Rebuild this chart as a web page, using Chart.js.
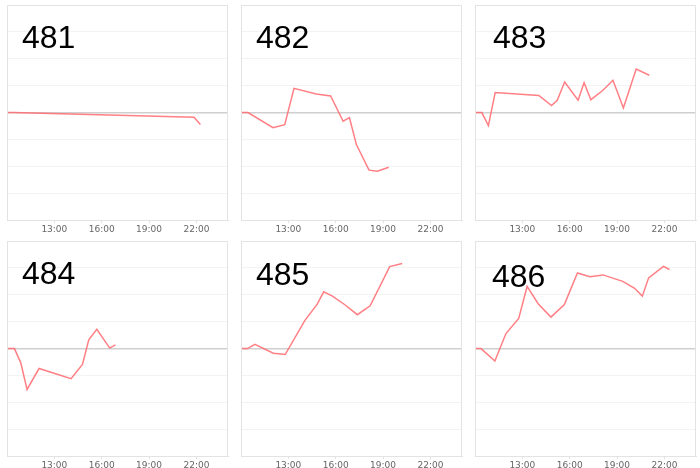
<!DOCTYPE html>
<html>
<head>
<meta charset="utf-8">
<script src="https://cdn.jsdelivr.net/npm/chart.js@4"></script>
<style>
body { margin: 0; background: #fff; }
#wrap { position: relative; width: 700px; height: 468px; overflow: hidden; }
.cell { position: absolute; width: 234px; height: 238px; }
.cell canvas { position: absolute; left: 0; top: 0; }
.title { position: absolute; font-family: "Liberation Sans", Arial, sans-serif; font-size: 32px; color: #000; line-height: 1; }
</style>
</head>
<body>
<div id="wrap"></div>
<script>
// chart names
var names = ["481", "482", "483", "484", "485", "486"];

// time in hours, value
var hours481 = [10.0, 10.4, 21.85, 22.25];
var values481 = [0, 0, -0.17, -0.44];

var hours482 = [10.0, 10.44, 12.03, 12.77, 13.36, 14.77, 15.68, 16.47, 16.87, 17.31, 18.11, 18.64, 19.36];
var values482 = [0, 0, -0.56, -0.45, 0.9, 0.69, 0.62, -0.32, -0.19, -1.19, -2.14, -2.18, -2.03];

var hours483 = [10.0, 10.43, 10.85, 11.28, 14.04, 14.85, 15.21, 15.68, 16.53, 16.91, 17.34, 18.09, 18.74, 19.4, 20.21, 21.04];
var values483 = [0, 0, -0.48, 0.75, 0.64, 0.26, 0.46, 1.14, 0.46, 1.11, 0.48, 0.82, 1.2, 0.17, 1.62, 1.39];

var hours484 = [10.0, 10.47, 10.87, 11.27, 12.03, 14.06, 14.78, 15.18, 15.69, 16.51, 16.87];
var values484 = [0, 0, -0.52, -1.52, -0.74, -1.12, -0.59, 0.33, 0.72, 0.02, 0.14];

var hours485 = [10.0, 10.41, 10.88, 12.05, 12.8, 14.04, 14.83, 15.24, 15.79, 16.58, 17.37, 18.18, 19.42, 20.21];
var values485 = [0, 0, 0.16, -0.17, -0.22, 1.04, 1.65, 2.11, 1.95, 1.63, 1.26, 1.59, 3.05, 3.16];

var hours486 = [10.0, 10.38, 11.26, 11.96, 12.77, 13.3, 14.0, 14.81, 15.66, 16.49, 17.28, 18.11, 19.36, 20.11, 20.6, 21.0, 21.94, 22.32];
var values486 = [0, 0, -0.46, 0.56, 1.12, 2.31, 1.67, 1.17, 1.64, 2.81, 2.67, 2.74, 2.5, 2.24, 1.95, 2.63, 3.06, 2.94];

var tickHours = [13, 16, 19, 22];

var allHours = [hours481, hours482, hours483, hours484, hours485, hours486];
var allValues = [values481, values482, values483, values484, values485, values486];

var cellPos = [[0, 0], [234, 0], [468, 0], [0, 236], [234, 236], [468, 236]];
var titlePos = [[22, 21], [22, 21], [25, 21], [22, 21], [22, 22], [24, 24]];

// box around the plot area
var framePlugin = {
  id: 'frame',
  afterDraw: function(chart) {
    var a = chart.chartArea, c = chart.ctx;
    c.save();
    c.strokeStyle = '#e3e3e3';
    c.lineWidth = 1;
    c.beginPath();
    c.moveTo(a.left + 0.5, a.bottom);
    c.lineTo(a.left + 0.5, a.top + 0.5);
    c.lineTo(a.right - 0.5, a.top + 0.5);
    c.lineTo(a.right - 0.5, a.bottom);
    c.stroke();
    c.restore();
  }
};

var wrap = document.getElementById('wrap');
for (var i = 0; i < names.length; i++) {
  var cell = document.createElement('div');
  cell.className = 'cell';
  cell.style.left = cellPos[i][0] + 'px';
  cell.style.top = cellPos[i][1] + 'px';
  var cv = document.createElement('canvas');
  cv.width = 234; cv.height = 238;
  cell.appendChild(cv);
  var t = document.createElement('div');
  t.className = 'title';
  t.textContent = names[i];
  t.style.left = titlePos[i][0] + 'px';
  t.style.top = titlePos[i][1] + 'px';
  cell.appendChild(t);
  wrap.appendChild(cell);

  var pts = allHours[i].map(function(h, k) { return { x: h, y: allValues[i][k] }; });

  new Chart(cv.getContext('2d'), {
    type: 'line',
    data: {
      datasets: [{
        data: pts,
        borderColor: 'rgba(255, 105, 110, 0.85)',
        borderWidth: 1.5,
        pointRadius: 0,
        tension: 0,
        fill: false
      }]
    },
    options: {
      responsive: false,
      animation: false,
      events: [],
      layout: { padding: { left: 7, right: 6, top: 5, bottom: 2 } },
      plugins: { legend: { display: false }, tooltip: { enabled: false } },
      scales: {
        x: {
          type: 'linear',
          min: 10, max: 24,
          afterBuildTicks: function(axis) {
            axis.ticks = tickHours.map(function(h) { return { value: h }; });
          },
          ticks: {
            callback: function(v) { return v + ':00'; },
            font: { family: 'DejaVu Sans', size: 9 },
            color: '#666',
            maxRotation: 0,
            padding: 1
          },
          grid: { drawOnChartArea: false, drawTicks: true, tickLength: 3, color: '#e3e3e3' },
          border: { color: '#e3e3e3' }
        },
        y: {
          min: -4, max: 4,
          ticks: { display: false, stepSize: 1 },
          grid: {
            drawTicks: false,
            tickLength: 0,
            color: function(ctx) { return ctx.tick.value === 0 ? '#cfcfcf' : '#f3f3f3'; },
            lineWidth: function(ctx) { return ctx.tick.value === 0 ? 1.5 : 1; }
          },
          border: { display: false }
        }
      }
    },
    plugins: [framePlugin]
  });
}
</script>
</body>
</html>
